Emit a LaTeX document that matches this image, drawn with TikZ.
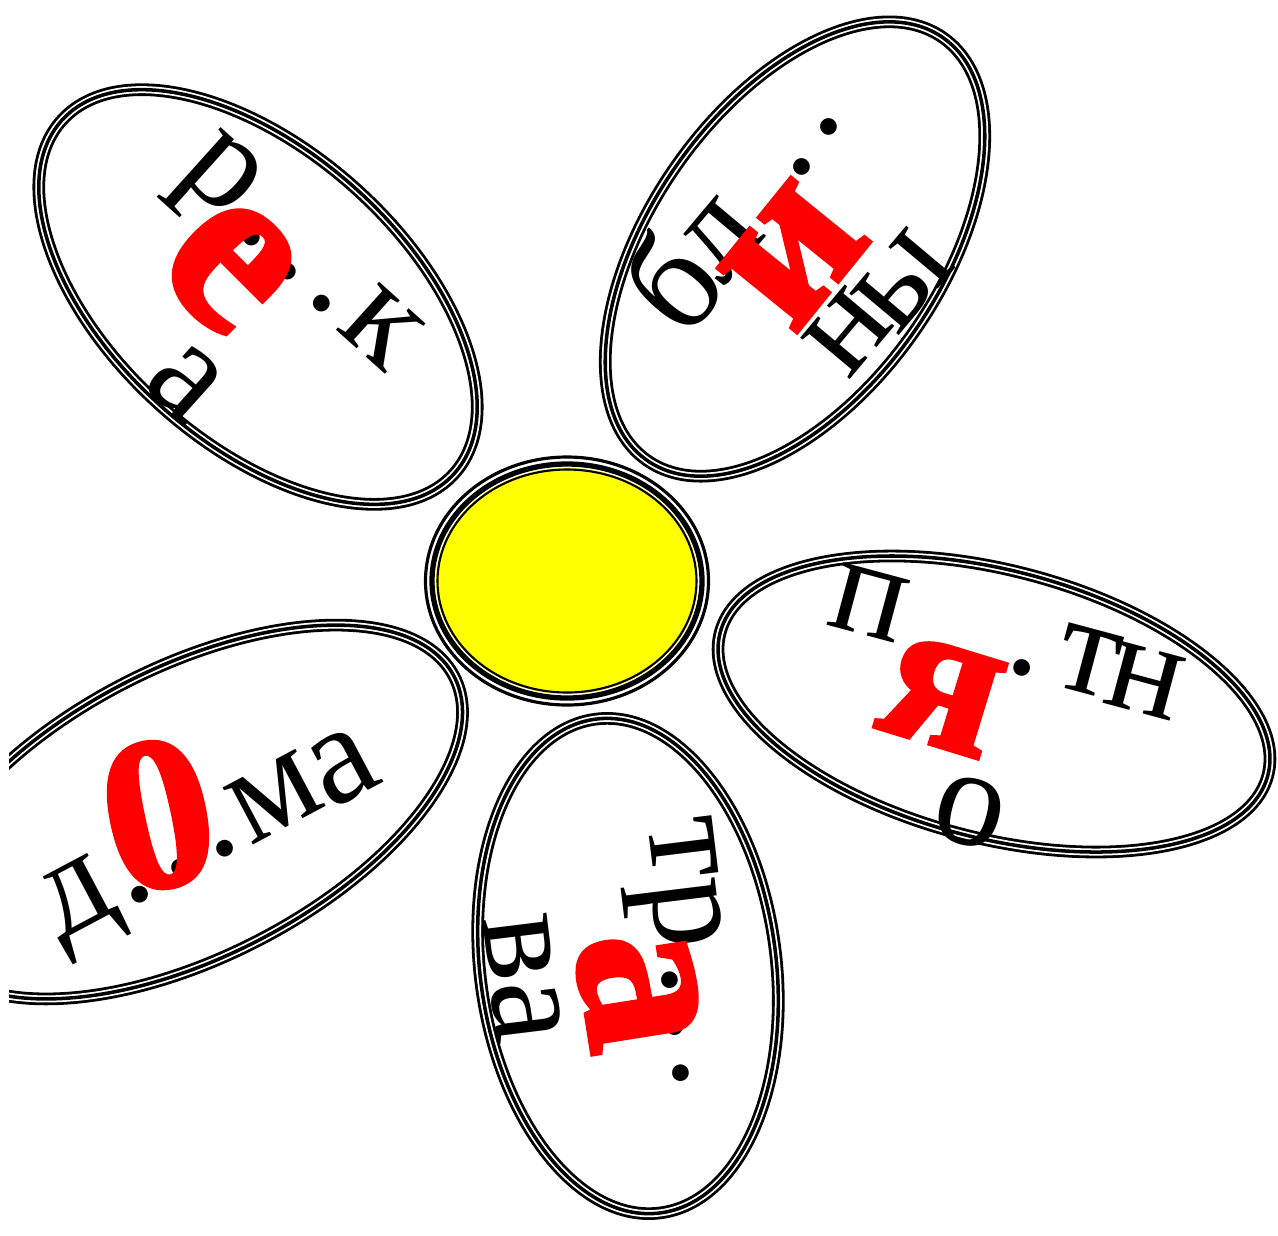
\documentclass[tikz,border=0pt]{standalone}
\usepackage{fontspec}
\setmainfont{Liberation Serif}
\newfontfamily\glasfont{Liberation Serif}[UprightFeatures={FakeBold=2}, BoldFeatures={FakeBold=2}]
\usetikzlibrary{shapes.geometric}
\definecolor{zhelt}{RGB}{255,255,0}
\definecolor{krasn}{RGB}{255,0,0}
\tikzset{
  lep/.style={draw=black, fill=white, line width=3.6pt,
    postaction={draw=white, line width=2.0pt},
    postaction={draw=black, line width=1.0pt}},
  bukva/.style={inner sep=0pt, font=\fontsize{40}{40}\selectfont},
  glas/.style={inner sep=0pt, text=krasn, font=\glasfont\bfseries\fontsize{#1}{#1}\selectfont},
}

\begin{document}
\begin{tikzpicture}[x=0.01cm, y=-0.01cm]
  \useasboundingbox (0,0) rectangle (1278,1235);
  \clip (9,0) rectangle (1278,1235);
  % lepestki
  \draw[lep, rotate around={-42:(258,297)}] (258,297) ellipse (264 and 146);
  \draw[lep, rotate around={55:(795,249)}] (795,249) ellipse (258 and 145);
  \draw[lep, rotate around={-14.6:(994,704)}] (994,704) ellipse (283 and 134);
  \draw[lep, rotate around={27.2:(191,812)}] (191,812) ellipse (296 and 145);
  \draw[lep, rotate around={-82.5:(628,966)}] (628,966) ellipse (249 and 148);
  % serdcevina
  \fill[zhelt] (567,581) ellipse (131 and 113);
  \draw[line width=0.9pt] (567,581) ellipse (141.5 and 124);
  \draw[line width=1.5pt] (567,581) ellipse (135 and 117);
  \draw[line width=0.6pt] (567,581) ellipse (129.5 and 111.5);

  % reka
  \node[bukva, rotate=-42] (r1) at (214,184) {р};
  \node[bukva, rotate=-42] (t1a) at (252,238) {.};
  \node[bukva, rotate=-42] (t1b) at (288,272) {.};
  \node[bukva, rotate=-42] (t1c) at (322,304) {.};
  \node[bukva, rotate=-42] (k1) at (381,327) {к};
  \node[bukva, rotate=-42] (a1) at (185,382) {а};
  % bliny
  \node[bukva, rotate=50] (b2) at (670,282) {б};
  \node[bukva, rotate=50] (l2) at (722,240) {л};
  \node[bukva, rotate=50] (t2a) at (802,167) {.};
  \node[bukva, rotate=50] (t2b) at (829,127) {.};
  \node[bukva, rotate=50] (n2) at (848,332) {н};
  \node[bukva, rotate=50] (y2) at (903,281) {ы};
  % pyatno
  \node[bukva, rotate=-15] (p3) at (869,603) {п};
  \node[bukva, rotate=-15] (t3a) at (1022,668) {.};
  \node[bukva, rotate=-15] (te3) at (1089,661) {т};
  \node[bukva, rotate=-15] (n3) at (1145,681) {н};
  \node[bukva, rotate=-15] (o3) at (970,812) {о};
  % doma
  \node[bukva, rotate=28] (d4) at (82,908) {д};
  \node[bukva, rotate=28] (t4a) at (140,895) {.};
  \node[bukva, rotate=28] (t4b) at (180,868) {.};
  \node[bukva, rotate=28] (t4c) at (225,849) {.};
  \node[bukva, rotate=28] (m4) at (275,797) {м};
  \node[bukva, rotate=28] (a4) at (343,767) {а};
  % trava
  \node[bukva, rotate=-83] (te5) at (683,848) {т};
  \node[bukva, rotate=-83] (r5) at (673,915) {р};
  \node[bukva, rotate=-83] (t5a) at (670,980) {.};
  \node[bukva, rotate=-83] (t5b) at (675,1027) {.};
  \node[bukva, rotate=-83] (t5c) at (681,1073) {.};
  \node[bukva, rotate=-83] (v5) at (519,948) {в};
  \node[bukva, rotate=-83] (a5) at (526,1012) {а};

  % krasnye glasnye
  \node[glas=70, rotate=-45] (e1) at (229,266) {е};
  \node[glas=63, rotate=51] (i2) at (794,255) {и};
  \node[glas=61, rotate=-17] (ya3) at (942,696) {я};
  \node[glas=62, rotate=12] (o4) at (158,815) {0};
  \node[glas=68, rotate=-81] (a5r) at (638,990) {а};
\end{tikzpicture}
\end{document}
